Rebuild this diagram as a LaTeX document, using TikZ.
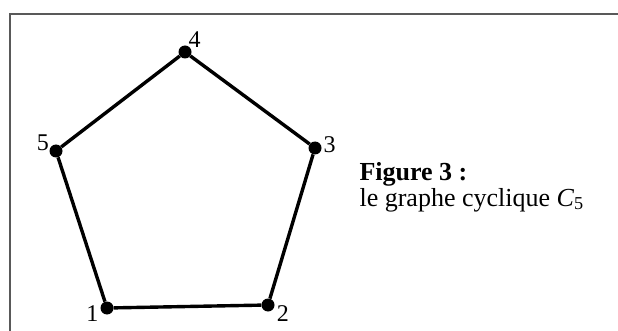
\documentclass[tikz,border=0pt]{standalone}
\usepackage{fontspec}
\setmainfont{Liberation Serif}
\begin{document}
\begin{tikzpicture}[x=1pt, y=-1pt,
  vertex/.style={circle, fill=black, inner sep=0pt, minimum size=13pt},
  every label/.style={inner sep=0pt, font=\fontsize{24}{28}\selectfont},
  edge/.style={line width=3.4pt}]
  \useasboundingbox (0,0) rectangle (618,331);
  % frame
  \draw[line width=1.5pt, black!65] (10,345) -- (10,14) -- (630,14);

  % the cycle C5
  \node[vertex, label={[label distance=2pt, yshift=5pt]195:1}] (v1) at (107,308) {};
  \node[vertex, label={[label distance=1pt, xshift=2pt, yshift=3pt]-30:2}] (v2) at (268,305) {};
  \node[vertex, label={[label distance=2pt, yshift=-7pt]15:3}] (v3) at (315,148) {};
  \node[vertex, label={[label distance=0pt, yshift=-2pt]60:4}] (v4) at (185,52) {};
  \node[vertex, label={[label distance=1pt, yshift=-3pt]155:5}] (v5) at (56,151) {};
  \draw[edge] (v1) -- (v2) -- (v3) -- (v4) -- (v5) -- (v1);

  % caption
  \node[anchor=base west, font=\fontsize{26}{30}\selectfont\bfseries] (title) at (356,181) {Figure 3 :};
  \node[anchor=base west, font=\fontsize{26}{30}\selectfont] (caption) at (356,206) {le graphe cyclique \textit{C}\textsubscript{5}};
\end{tikzpicture}
\end{document}
